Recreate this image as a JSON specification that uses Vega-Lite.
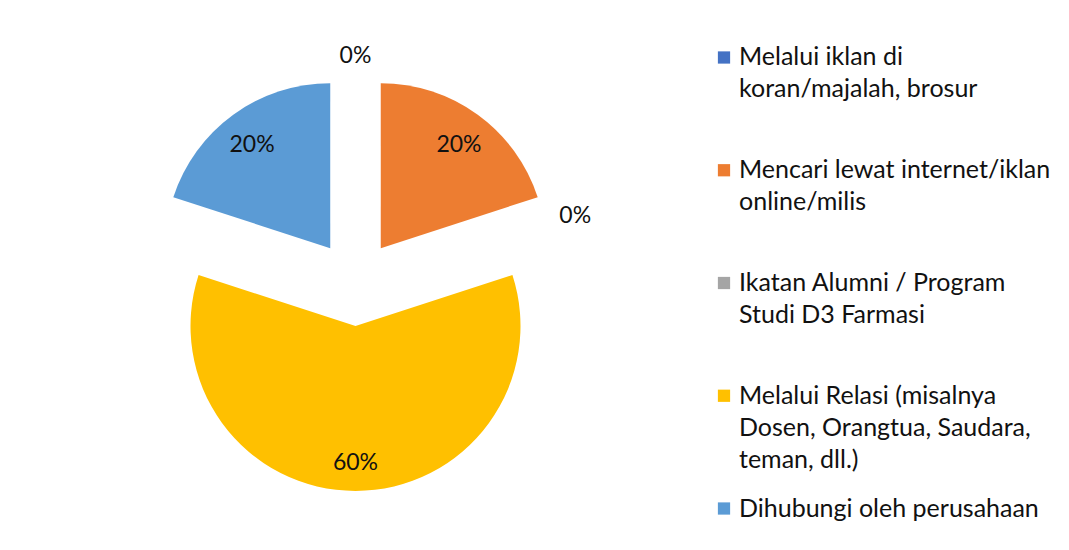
{
  "$schema": "https://vega.github.io/schema/vega-lite/v6.json",
  "padding": {"left": 0, "top": 16, "right": 0, "bottom": 0},
  "autosize": {"type": "pad"},
  "background": "white",
  "config": {"view": {"stroke": null}, "font": "Lato"},
  "data": {
    "values": [
      {"order": 1, "category": "Melalui iklan di\nkoran/majalah, brosur", "share": 0},
      {"order": 2, "category": "Mencari lewat internet/iklan\nonline/milis", "share": 0.2},
      {"order": 3, "category": "Ikatan Alumni / Program\nStudi D3 Farmasi", "share": 0},
      {"order": 4, "category": "Melalui Relasi (misalnya\nDosen, Orangtua, Saudara,\nteman, dll.)", "share": 0.6},
      {"order": 5, "category": "Dihubungi oleh perusahaan", "share": 0.2}
    ]
  },
  "spacing": 0,
  "hconcat": [
    {
      "width": 711,
      "height": 534,
      "layer": [
        {
          "mark": {
            "type": "arc",
            "outerRadius": 165,
            "xOffset": {"expr": "43*sin(PI*(datum.share_start+datum.share_end))"},
            "yOffset": {"expr": "-43*cos(PI*(datum.share_start+datum.share_end))"}
          },
          "encoding": {
            "theta": {"field": "share", "type": "quantitative", "stack": true, "scale": {"domain": [0, 1]}},
            "order": {"field": "order", "type": "quantitative", "sort": "ascending"},
            "color": {
              "field": "category",
              "type": "nominal",
              "scale": {
                "domain": [
                  "Melalui iklan di\nkoran/majalah, brosur",
                  "Mencari lewat internet/iklan\nonline/milis",
                  "Ikatan Alumni / Program\nStudi D3 Farmasi",
                  "Melalui Relasi (misalnya\nDosen, Orangtua, Saudara,\nteman, dll.)",
                  "Dihubungi oleh perusahaan"
                ],
                "range": ["#4472C4", "#ED7D31", "#A5A5A5", "#FFC000", "#5B9BD5"]
              },
              "legend": null
            }
          }
        },
        {
          "mark": {
            "type": "text",
            "fontSize": 23,
            "dy": 4,
            "color": "#111111",
            "radius": {"expr": "datum.share == 0 ? 231 : 176"}
          },
          "encoding": {
            "theta": {"field": "share", "type": "quantitative", "stack": true, "scale": {"domain": [0, 1]}},
            "order": {"field": "order", "type": "quantitative", "sort": "ascending"},
            "text": {"field": "share", "type": "quantitative", "format": ".0%"}
          }
        }
      ]
    },
    {
      "width": 26,
      "height": 534,
      "encoding": {
        "y": {
          "field": "category",
          "type": "nominal",
          "sort": {"field": "order", "op": "min"},
          "axis": null,
          "scale": {"type": "point", "padding": 0.368}
        }
      },
      "layer": [
        {
          "mark": {"type": "point", "shape": "square", "filled": true, "size": 150, "opacity": 1},
          "encoding": {
            "color": {
              "field": "category",
              "type": "nominal",
              "scale": {
                "domain": [
                  "Melalui iklan di\nkoran/majalah, brosur",
                  "Mencari lewat internet/iklan\nonline/milis",
                  "Ikatan Alumni / Program\nStudi D3 Farmasi",
                  "Melalui Relasi (misalnya\nDosen, Orangtua, Saudara,\nteman, dll.)",
                  "Dihubungi oleh perusahaan"
                ],
                "range": ["#4472C4", "#ED7D31", "#A5A5A5", "#FFC000", "#5B9BD5"]
              },
              "legend": null
            }
          }
        },
        {
          "mark": {
            "type": "text",
            "align": "left",
            "baseline": "alphabetic",
            "dx": 15,
            "dy": 8,
            "fontSize": 25,
            "lineHeight": 32,
            "lineBreak": "\n",
            "color": "#111111"
          },
          "encoding": {"text": {"field": "category", "type": "nominal"}}
        }
      ]
    }
  ]
}
